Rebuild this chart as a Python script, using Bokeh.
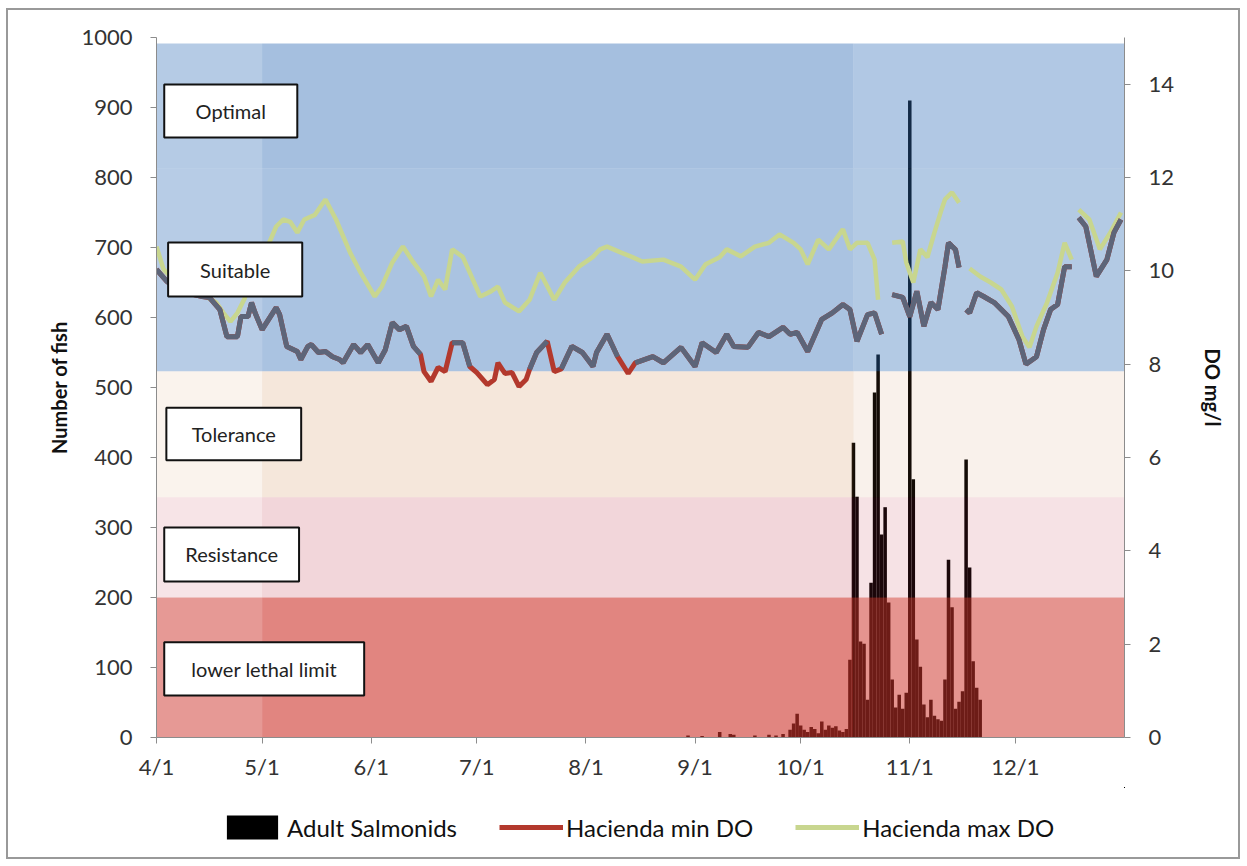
import numpy as np
from bokeh.plotting import figure
from bokeh.layouts import column
from bokeh.models import (Range1d, LinearAxis, FixedTicker, Legend, LegendItem)
from bokeh.embed import file_html
from bokeh.resources import INLINE
from bokeh.core.properties import value

# ---------------- data ----------------
# x axis: day index, day 0 = April 1
month_ticks = [0, 30, 61, 91, 122, 153, 183, 214, 244]
month_labels = ["4/1", "5/1", "6/1", "7/1", "8/1", "9/1", "10/1", "11/1", "12/1"]

nan = float("nan")

min_days = [0, 3, 6, 10, 13, 15, 18, 20, 23, 24, 26, 27, 28, 30, 34, 35, 37, 40, 41, 43,
            44, 46, 48, 50, 52, 53, 56, 58, 60, 63, 65, 67, 69, 71, 73, 75, 76, 78, 80, 82,
            84, 87, 89, 91, 94, 96, 97, 99, 101, 103, 105, 106, 108, 111, 113, 115, 118, 121,
            124, 125, 128, 131, 134, 136, 141, 144, 149, 153, 155, 159, 162, 164, 168, 171,
            174, 178, 180, 182, 185, 189, 192, 195, 197, 199, 202, 204, 206, 207, 209, 212,
            214, 216, 218, 220, 222, 224, 225, 227, 228, 229, 230, 231, 233, 235, 238, 240,
            242, 245, 247, 250, 252, 254, 256, 258, 260, 261, 262, 264, 267, 270, 272, 274]
do_min = [10.03, 9.77, 9.60, 9.50, 9.45, 9.43, 9.17, 8.59, 8.59, 9.02, 9.02, 9.32, 9.10, 8.74,
          9.21, 9.06, 8.38, 8.27, 8.10, 8.38, 8.42, 8.25, 8.27, 8.16, 8.10, 8.03, 8.42, 8.25,
          8.42, 8.03, 8.31, 8.89, 8.74, 8.81, 8.38, 8.21, 7.84, 7.63, 7.93, 7.84, 8.46, 8.46,
          7.95, 7.82, 7.56, 7.67, 8.03, 7.80, 7.82, 7.52, 7.67, 7.89, 8.25, 8.49, 7.84, 7.90,
          8.38, 8.25, 7.95, 8.25, 8.64, 8.16, 7.80, 8.03, 8.16, 8.03, 8.36, 7.95, 8.46, 8.25,
          8.64, 8.38, 8.36, 8.68, 8.59, 8.79, 8.64, 8.68, 8.27, 8.96, 9.10, 9.28, 9.17, 8.49,
          9.06, 9.10, 8.64, nan, 9.49, 9.43, 9.02, 9.56, 8.81, 9.32, 9.17, 10.09, 10.60, 10.45,
          10.07, nan, 9.17, 9.10, 9.53, 9.45, 9.32, 9.17, 9.02, 8.53, 8.00, 8.16, 8.74, 9.17,
          9.28, 10.09, 10.09, nan, 11.14, 10.95, 9.88, 10.24, 10.82, 11.10]

max_days = [0, 2, 5, 8, 11, 14, 17, 19, 21, 23, 25, 27, 30, 32, 34, 36, 38, 40, 42, 45, 48,
            51, 55, 58, 62, 64, 67, 70, 73, 76, 78, 80, 82, 84, 87, 89, 92, 95, 97, 99, 103,
            106, 109, 113, 116, 120, 124, 126, 128, 132, 135, 138, 144, 149, 153, 156, 160,
            162, 166, 170, 174, 177, 181, 183, 185, 188, 191, 195, 197, 199, 202, 204, 205,
            206, 209, 212, 213, 215, 217, 219, 221, 223, 224, 226, 228, 229, 231, 234, 237,
            240, 243, 246, 248, 250, 253, 256, 258, 260, 261, 262, 265, 268, 271, 274]
do_max = [10.52, 10.03, 9.80, 9.70, 9.60, 9.45, 9.32, 9.10, 8.91, 9.10, 9.40, 9.90, 10.35,
          10.60, 10.95, 11.10, 11.05, 10.82, 11.10, 11.20, 11.53, 11.10, 10.39, 9.96, 9.45,
          9.66, 10.18, 10.52, 10.18, 9.88, 9.45, 9.81, 9.60, 10.46, 10.30, 9.96, 9.45, 9.56,
          9.66, 9.32, 9.13, 9.38, 9.96, 9.38, 9.75, 10.09, 10.30, 10.46, 10.52, 10.39, 10.30,
          10.20, 10.24, 10.09, 9.81, 10.14, 10.29, 10.46, 10.31, 10.52, 10.60, 10.78, 10.60,
          10.46, 10.14, 10.67, 10.46, 10.89, 10.46, 10.60, 10.60, 10.24, 9.38, nan, 10.60,
          10.63, 10.18, 9.75, 10.46, 10.29, 10.82, 11.31, 11.53, 11.68, 11.46, nan, 10.05,
          9.88, 9.75, 9.60, 9.24, 8.59, 8.36, 8.81, 9.32, 9.96, 10.60, 10.24, nan, 11.31,
          11.10, 10.46, 10.82, 11.25]

fish_days = [151, 155, 160, 163, 164, 170, 174, 176, 178, 180, 181, 182, 183, 184, 185, 186,
             187, 188, 189, 190, 191, 192, 193, 194, 195, 196, 197, 198, 199, 200, 201, 202,
             203, 204, 205, 206, 207, 208, 209, 210, 211, 212, 213, 214, 215, 216, 217, 218,
             219, 220, 221, 222, 223, 224, 225, 226, 227, 228, 229, 230, 231, 232, 233, 234]
fish_counts = [3, 2, 8, 5, 4, 3, 4, 3, 5, 11, 20, 34, 17, 11, 8, 15, 12, 6, 23, 11, 17, 14,
               16, 10, 8, 12, 111, 421, 344, 137, 134, 54, 221, 493, 547, 290, 329, 193, 83,
               43, 61, 41, 64, 910, 369, 140, 101, 47, 29, 54, 31, 26, 24, 83, 254, 186, 41,
               51, 66, 397, 243, 109, 71, 54]

# DO habitat bands (mg/l)
band_lo = [0.0, 3.0, 5.15, 7.85, 12.2]
band_hi = [3.0, 5.15, 7.85, 12.2, 14.87]
band_color = ["#cd342b", "#be3246", "#c97a37", "#316eb7", "#316eb7"]
band_alpha = [[0.50, 0.60, 0.53], [0.13, 0.20, 0.14], [0.09, 0.18, 0.10],
              [0.35, 0.41, 0.37], [0.36, 0.44, 0.38]]
seg_start = [0, 30, 198]
seg_end = [30, 198, 275]

# labelled boxes (day / number-of-fish units)
box_text = ["Optimal", "Suitable", "Tolerance", "Resistance", "lower lethal limit"]
box_x0 = [2.2, 3.3, 2.8, 2.2, 2.2]
box_x1 = [40.0, 41.4, 41.1, 40.5, 59.0]
box_y0 = [857, 630, 396, 223, 60]
box_y1 = [933, 707, 471, 300, 136]

series_names = ["Adult Salmonids", "Hacienda min DO", "Hacienda max DO"]

# ---------------- main figure ----------------
FONT = "Lato"
BAR_COLOR = "black"
MIN_COLOR = "#b3392d"
MIN_COLOR_HIGH = "#5d6579"
MAX_COLOR = "#c8d68f"

p = figure(frame_width=968, frame_height=700, x_range=Range1d(0, 275),
           y_range=Range1d(0, 1000), output_backend="svg", toolbar_location=None,
           min_border_left=148, min_border_right=114, min_border_top=27, min_border_bottom=50)
p.extra_y_ranges = {"do": Range1d(0, 15)}
p.outline_line_color = None
p.xgrid.visible = False
p.ygrid.visible = False
p.background_fill_color = "white"

# bars
p.vbar(x=fish_days, top=fish_counts, width=1.0, fill_color=BAR_COLOR, line_color=None)

# bands overlay (semi transparent)
for lo, hi, col, alphas in zip(band_lo, band_hi, band_color, band_alpha):
    for s0, s1, a in zip(seg_start, seg_end, alphas):
        p.quad(left=[s0], right=[s1], bottom=[lo], top=[hi], y_range_name="do",
               fill_color=col, fill_alpha=a, line_color=None)

# lines
mn = np.array(do_min, dtype=float)
grey_vals = np.where(mn >= 7.85, mn, np.nan)
p.line(max_days, do_max, y_range_name="do", line_color=MAX_COLOR, line_width=4.5)
p.line(min_days, do_min, y_range_name="do", line_color=MIN_COLOR, line_width=5)
p.line(min_days, list(grey_vals), y_range_name="do", line_color=MIN_COLOR_HIGH, line_width=5)

# label boxes
p.quad(left=box_x0, right=box_x1, bottom=box_y0, top=box_y1, fill_color="white",
       line_color="#111111", line_width=2)
p.text(x=[(a + b) / 2 for a, b in zip(box_x0, box_x1)],
       y=[(a + b) / 2 for a, b in zip(box_y0, box_y1)], text=box_text,
       text_font=value(FONT), text_font_size="20px", text_color="#222222",
       text_align="center", text_baseline="middle")

# axes
def style_axis(ax):
    ax.axis_line_color = "#8c8c8c"
    ax.major_tick_line_color = "#8c8c8c"
    ax.major_tick_out = 6
    ax.major_tick_in = 0
    ax.minor_tick_line_color = None
    ax.major_label_text_font = FONT
    ax.major_label_text_font_size = "22px"
    ax.major_label_text_color = "#333333"
    ax.axis_label_text_font = FONT
    ax.axis_label_text_font_size = "20px"
    ax.axis_label_text_font_style = "bold"
    ax.axis_label_text_color = "#111111"

xa = p.xaxis[0]
style_axis(xa)
xa.ticker = FixedTicker(ticks=month_ticks)
xa.major_label_overrides = {t: l for t, l in zip(month_ticks, month_labels)}
xa.major_label_standoff = 9

ya = p.yaxis[0]
style_axis(ya)
ya.ticker = FixedTicker(ticks=list(range(0, 1001, 100)))
ya.axis_label = "Number of fish"
ya.major_label_standoff = 18
ya.axis_label_standoff = 7

ra = LinearAxis(y_range_name="do", ticker=FixedTicker(ticks=list(range(0, 15, 2))),
                axis_label="DO mg/l")
style_axis(ra)
ra.major_label_standoff = 18
ra.axis_label_standoff = 24
p.add_layout(ra, "right")

# ---------------- legend strip ----------------
# same series re-drawn with ranges that keep them out of view; only the legend shows
lg = figure(width=1230, height=70, x_range=Range1d(-2, -1), y_range=Range1d(-2, -1),
            output_backend="svg", toolbar_location=None,
            x_axis_location=None, y_axis_location=None,
            min_border_left=0, min_border_right=0, min_border_top=0, min_border_bottom=0)
lg.outline_line_color = None
lg.grid.visible = False
r_bar = lg.vbar(x=fish_days, top=fish_counts, width=1, fill_color=BAR_COLOR, line_color=None)
r_min = lg.line(min_days, do_min, line_color=MIN_COLOR, line_width=5)
r_max = lg.line(max_days, do_max, line_color=MAX_COLOR, line_width=5)

legend = Legend(items=[LegendItem(label=series_names[0], renderers=[r_bar]),
                       LegendItem(label=series_names[1], renderers=[r_min]),
                       LegendItem(label=series_names[2], renderers=[r_max])],
                orientation="horizontal", location=(64, 15))
legend.label_text_font = FONT
legend.label_text_font_size = "24px"
legend.label_text_color = "#111111"
legend.glyph_width = 64
legend.glyph_height = 30
legend.label_standoff = 3
legend.spacing = 42
legend.padding = 0
legend.margin = 0
legend.border_line_color = None
legend.background_fill_alpha = 0
lg.add_layout(legend)

layout = column(p, lg, spacing=0)
layout.styles = {"border": "2px solid #999999", "margin-left": "6px", "margin-top": "8px"}

open("out.html", "w").write(file_html(layout, INLINE))
